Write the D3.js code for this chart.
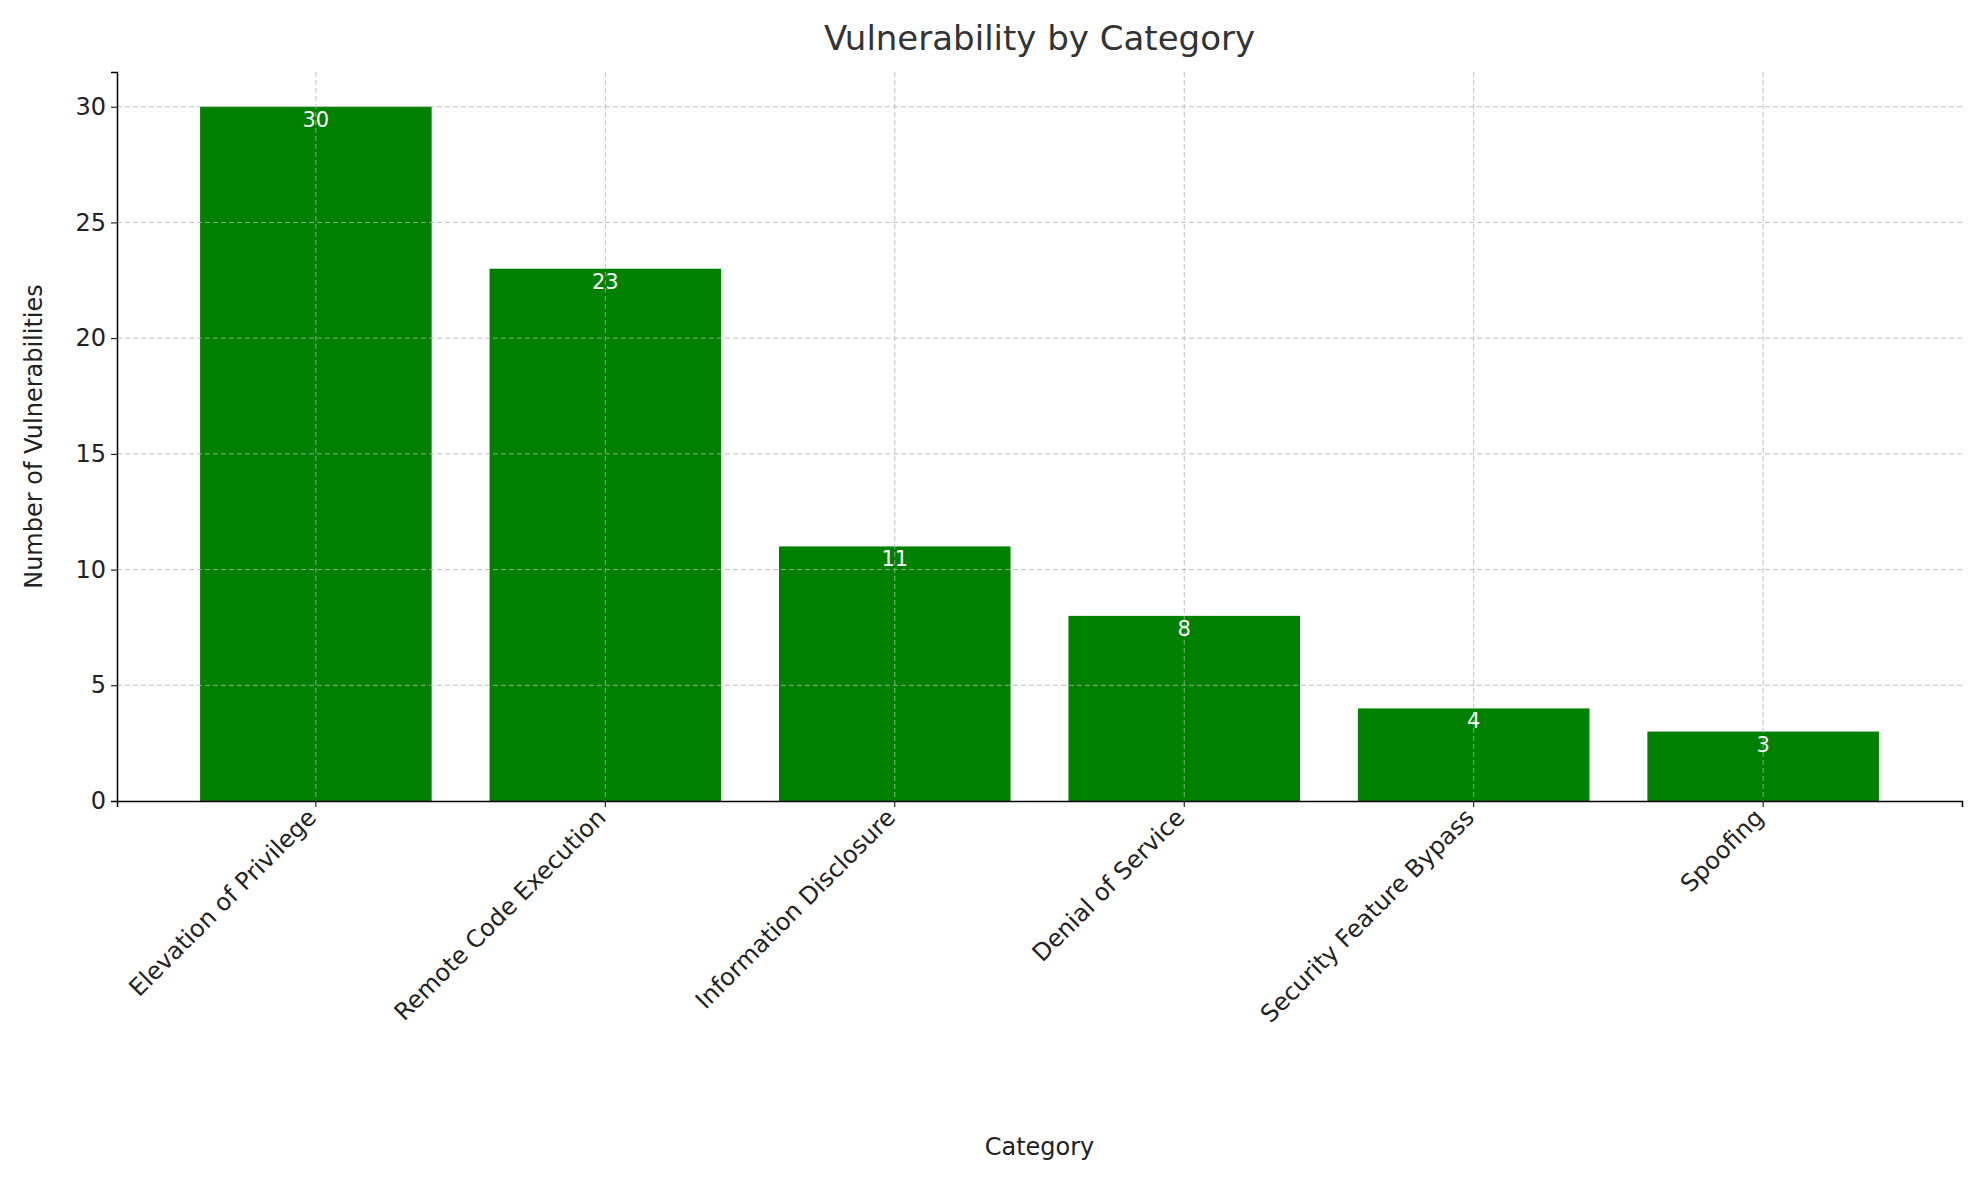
<!DOCTYPE html><html><head><meta charset="utf-8"><script src="https://cdn.jsdelivr.net/npm/d3@7"></script>
<style>body{margin:0;background:#fff}text{font-family:"DejaVu Sans",sans-serif}</style></head><body>
<script>
const categories=["Elevation of Privilege","Remote Code Execution","Information Disclosure","Denial of Service","Security Feature Bypass","Spoofing"];
const values=[30,23,11,8,4,3];
const yTicks=[0,5,10,15,20,25,30];
const W=1972,H=1180,L=117,R=1962,T=72,B=801;
const svg=d3.select("body").append("svg").attr("width",W).attr("height",H);
const x=d3.scaleBand().domain(categories).range([L,R]).paddingInner(0.2).paddingOuter(0.287);
const y=d3.scaleLinear().domain([0,31.5]).range([B,T]);
svg.selectAll("rect.bar").data(values).join("rect").attr("x",(d,i)=>x(categories[i])).attr("width",x.bandwidth())
 .attr("y",d=>y(d)).attr("height",d=>B-y(d)).attr("fill","#008000");
const g=svg.append("g").attr("stroke","#b0b0b0").attr("stroke-dasharray","5,3").attr("stroke-width",1).attr("opacity",0.8);
yTicks.slice(1).forEach(t=>g.append("line").attr("x1",L).attr("x2",R).attr("y1",y(t)).attr("y2",y(t)));
categories.forEach(c=>g.append("line").attr("x1",x(c)+x.bandwidth()/2).attr("x2",x(c)+x.bandwidth()/2).attr("y1",T).attr("y2",B));
svg.selectAll("text.v").data(values).join("text").attr("x",(d,i)=>x(categories[i])+x.bandwidth()/2).attr("y",d=>y(d)+20)
 .attr("text-anchor","middle").attr("fill","#fff").attr("font-size",21).text(d=>d);
const ya=svg.append("g").attr("transform",`translate(${L},0)`).call(d3.axisLeft(y).tickValues(yTicks).tickSize(6).tickPadding(5));
ya.select(".domain").attr("stroke","#000").attr("stroke-width",1.5);
ya.selectAll("text").attr("font-size",24).attr("fill","#222");
const xa=svg.append("g").attr("transform",`translate(0,${B})`).call(d3.axisBottom(x).tickSize(6));
xa.select(".domain").attr("stroke","#000").attr("stroke-width",1.5);
xa.selectAll("text").attr("font-size",24).attr("fill","#222").attr("text-anchor","end").attr("dy","0.35em")
 .attr("transform","translate(-4,12) rotate(-45)").attr("y",0).attr("x",0);
svg.append("text").attr("x",(L+R)/2).attr("y",50).attr("text-anchor","middle").attr("font-size",34).attr("fill","#333").text("Vulnerability by Category");
svg.append("text").attr("x",(L+R)/2).attr("y",1155).attr("text-anchor","middle").attr("font-size",24).attr("fill","#222").text("Category");
svg.append("text").attr("transform",`translate(42,${(T+B)/2}) rotate(-90)`).attr("text-anchor","middle").attr("font-size",24).attr("fill","#222").text("Number of Vulnerabilities");
</script></body></html>
